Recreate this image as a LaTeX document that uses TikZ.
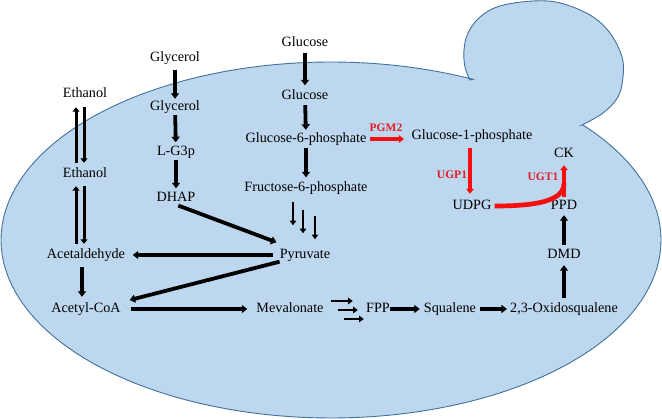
\documentclass[tikz,border=0pt]{standalone}
\usepackage{fontspec}
\setmainfont{Liberation Serif}
\usetikzlibrary{arrows.meta,calc}
\definecolor{cellfill}{RGB}{189,215,238}
\definecolor{celledge}{RGB}{65,113,156}
\definecolor{enzred}{RGB}{226,30,40}
\definecolor{arrred}{RGB}{245,15,15}
\begin{document}
\begin{tikzpicture}[x=1pt,y=-1pt,
  lbl/.style={font=\fontsize{14.2}{16}\selectfont, inner sep=0pt, text height=10pt, text depth=3pt},
  enzlbl/.style={font=\fontsize{11.5}{13}\selectfont\bfseries, text=enzred, inner sep=0pt},
  arr/.style={line width=3.8pt, -{Triangle[length=5.5pt,width=8pt]}, shorten <=3pt, shorten >=3pt},
  dblarr/.style={line width=3pt, -{Triangle[length=4.5pt,width=7pt]}},
  thinarr/.style={line width=2.6pt, -{Triangle[length=4.5pt,width=6.5pt]}},
  redarr/.style={draw=arrred, line width=3.4pt, -{Triangle[length=5pt,width=7.5pt]}},
  cell/.style={fill=cellfill, draw=celledge, line width=0.9pt}
]
\useasboundingbox (0,0) rectangle (662,419);

% cell outline: ellipse with a bud
\path[cell]
  plot[domain=-400.3:-64.5, samples=240, variable=\t] ({331+330*cos(\t)},{240+178*sin(\t)})
  -- plot[smooth, tension=0.6] coordinates {(470,80) (465,67) (464,50) (468,33) (480,17) (500,6) (533,1) (560,3) (590,15) (610,33) (622,57) (623,77) (618,97) (603,113) (582,125)}
  -- cycle;

% metabolites
\node[lbl] (glu0) at (305,43) {Glucose};
\node[lbl] (glu1) at (305,96) {Glucose};
\node[lbl] (g6p) at (306,139) {Glucose-6-phosphate};
\node[lbl] (f6p) at (306,188) {Fructose-6-phosphate};
\node[lbl] (pyr) at (305,255) {Pyruvate};
\node[lbl] (gly0) at (175,58) {Glycerol};
\node[lbl] (gly1) at (175,107) {Glycerol};
\node[lbl] (lg3p) at (176,152) {L-G3p};
\node[lbl] (dhap) at (176,198) {DHAP};
\node[lbl] (eth0) at (85,94) {Ethanol};
\node[lbl] (eth1) at (85,174) {Ethanol};
\node[lbl] (acal) at (86,255) {Acetaldehyde};
\node[lbl] (acoa) at (86,309) {Acetyl-CoA};
\node[lbl] (mev) at (290,309) {Mevalonate};
\node[lbl] (fpp) at (378,309) {FPP};
\node[lbl] (squ) at (450,309) {Squalene};
\node[lbl] (oxs) at (564,309) {2,3-Oxidosqualene};
\node[lbl] (dmd) at (564,255) {DMD};
\node[lbl] (ppd) at (564,206) {PPD};
\node[lbl] (ck) at (564,154) {CK};
\node[lbl] (g1p) at (472,136) {Glucose-1-phosphate};
\node[lbl] (udpg) at (472,206) {UDPG};

% enzymes
\node[enzlbl] (pgm2) at (386,128) {PGM2};
\node[enzlbl] (ugp1) at (452,175) {UGP1};
\node[enzlbl] (ugt1) at (543,177) {UGT1};

% glucose column
\draw[arr, shorten >=4pt] (glu0) -- (glu1);
\draw[arr, shorten <=2.5pt, shorten >=2.5pt] (glu1) -- (g6p);
\draw[arr, shorten <=2.5pt, shorten >=4pt] (g6p) -- (f6p);
\draw[thinarr] ($(f6p.south)+(-13,7.5)$) -- +(0,23);
\draw[thinarr] ($(f6p.south)+(-3,15.5)$) -- +(0,23);
\draw[thinarr] ($(f6p.south)+(9,21.5)$) -- +(0,23);

% glycerol column
\draw[arr, shorten <=5pt, shorten >=1.5pt] (gly0) -- (gly1);
\draw[arr, shorten <=1.5pt, shorten >=3pt] (gly1) -- (lg3p);
\draw[arr, shorten <=1pt, shorten >=3pt] (lg3p) -- (dhap);
\draw[arr, shorten <=2.5pt, shorten >=0pt] (dhap.south) -- ($(pyr.north west)+(-3,-6)$);

% ethanol column
\draw[dblarr, shorten <=4.5pt, shorten >=6.5pt] ([xshift=-9pt]eth1.north) -- ([xshift=-9pt]eth0.south);
\draw[dblarr, shorten <=6.5pt, shorten >=4.5pt] ([xshift=-1pt]eth0.south) -- ([xshift=-1pt]eth1.north);
\draw[dblarr, shorten <=4.5pt, shorten >=5.5pt] ([xshift=-10pt]acal.north) -- ([xshift=-9pt]eth1.south);
\draw[dblarr, shorten <=5.5pt, shorten >=4.5pt] ([xshift=-1pt]eth1.south) -- ([xshift=-2pt]acal.north);
\draw[arr, shorten <=5.5pt, shorten >=5.5pt] ([xshift=-4pt]acal.south) -- ([xshift=-4pt]acoa.north);

% pyruvate branches
\draw[arr, shorten <=7pt, shorten >=7.5pt] (pyr) -- (acal);
\draw[arr, shorten <=0pt, shorten >=9pt] (pyr.south west) -- (acoa.north east);
\draw[arr, shorten <=10pt, shorten >=9pt] (acoa) -- (mev);

% mevalonate to oxidosqualene
\draw[thinarr] ($(mev.east)+(7,-8)$) -- +(22,0);
\draw[thinarr] ($(mev.east)+(14,1)$) -- +(20,0);
\draw[thinarr] ($(mev.east)+(20,10)$) -- +(20,0);
\draw[arr, line width=4.2pt, shorten <=0pt, shorten >=4pt] (fpp) -- (squ);
\draw[arr, line width=4.2pt, shorten <=4pt, shorten >=3pt] (squ) -- (oxs);
\draw[arr, shorten <=4.5pt, shorten >=3.5pt] (oxs) -- (dmd);
\draw[arr, shorten <=3.5pt, shorten >=2.5pt] (dmd) -- (ppd);

% red branch
\draw[redarr, shorten <=3.5pt, shorten >=7.5pt] (g6p.east) -- (g6p.east -| g1p.west);
\draw[redarr, line width=3.2pt, shorten <=5.5pt, shorten >=5.5pt] ([xshift=-2pt]g1p.south) -- ([xshift=-2pt]udpg.north);
\draw[redarr, line width=4.2pt, shorten <=2pt, shorten >=4.5pt] (ppd.north) -- (ck.south);
\draw[draw=arrred, line width=4.7pt, shorten <=3pt] (udpg.east) .. controls +(44,0) and +(0,18) .. ($(ppd.north)+(0,-16)$);
\end{tikzpicture}
\end{document}
